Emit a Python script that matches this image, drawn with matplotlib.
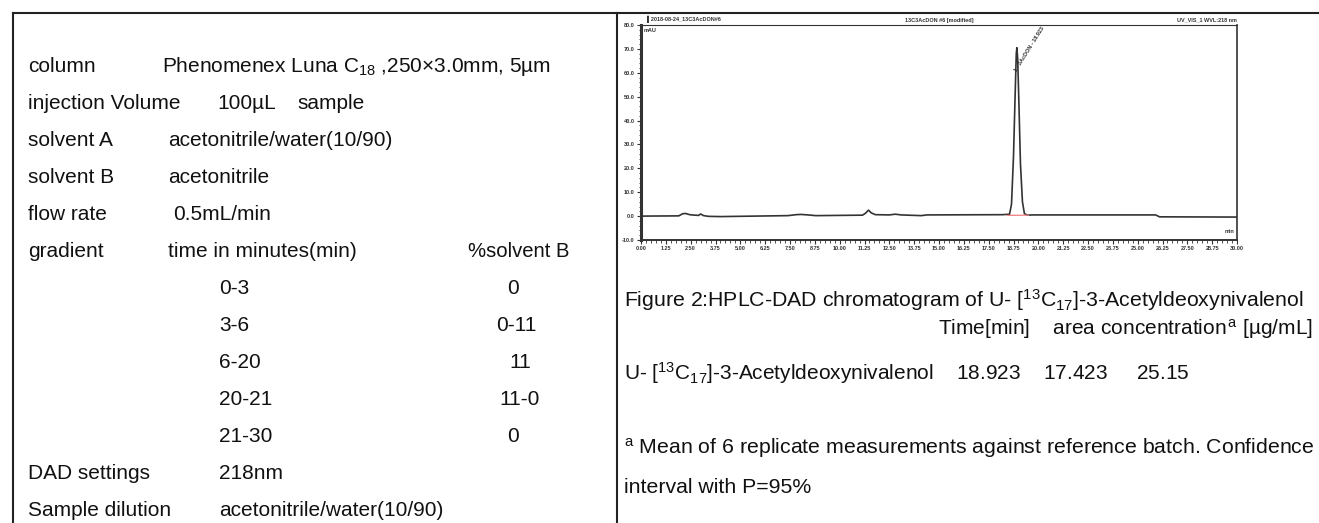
import matplotlib
matplotlib.use("Agg")
import matplotlib.pyplot as plt
from matplotlib.lines import Line2D
from matplotlib.ticker import MultipleLocator, FormatStrFormatter

plt.rcParams['font.family'] = ['Liberation Sans', 'DejaVu Sans']
plt.rcParams['mathtext.fontset'] = 'custom'
plt.rcParams['mathtext.rm'] = 'Liberation Sans'
plt.rcParams['mathtext.it'] = 'Liberation Sans'
plt.rcParams['mathtext.bf'] = 'Liberation Sans:bold'

# method parameters (left cell)
param_labels = ["column", "injection Volume", "solvent A", "solvent B", "flow rate", "gradient"]
param_values = ["Phenomenex Luna C$_{18}$ ,250\u00d73.0mm, 5\u00b5m", "100\u00b5L", "acetonitrile/water(10/90)",
                "acetonitrile", "0.5mL/min", "time in minutes(min)"]
gradient_time = ["0-3", "3-6", "6-20", "20-21", "21-30"]
gradient_b = ["0", "0-11", "11", "11-0", "0"]
tail_labels = ["DAD settings", "Sample dilution"]
tail_values = ["218nm", "acetonitrile/water(10/90)"]

# chromatogram (time in min, signal in mAU)
rt_min = [0.0, 1.9, 2.1, 2.25, 2.45, 2.7, 2.9, 3.0, 3.15, 3.4, 4.0, 7.4, 7.8, 8.05, 8.4, 8.8,
          11.15, 11.3, 11.45, 11.6, 11.8, 12.5, 12.8, 13.1, 14.1, 14.4, 18.2, 18.55, 18.65,
          18.75, 18.83, 18.89, 18.92, 18.96, 19.02, 19.1, 19.2, 19.3, 19.45, 19.7, 25.9, 26.1, 30.0]
signal_mau = [0.0, 0.1, 1.0, 1.1, 0.6, 0.4, 0.3, 0.9, 0.2, -0.1, -0.2, 0.2, 0.6, 0.7, 0.5, 0.2,
              0.4, 1.2, 2.5, 1.3, 0.6, 0.5, 0.8, 0.5, 0.2, 0.5, 0.6, 0.8, 5.0,
              25.0, 50.0, 68.0, 70.5, 66.0, 48.0, 22.0, 6.0, 1.0, 0.4, 0.5, 0.5, -0.3, -0.4]
peak_rt = 18.923
peak_name = "1 - 3AcDON - 18.923"

W, H = 1319, 523


def fx(x):
    return x / W


def fy(y):
    return 1 - y / H


fig = plt.figure(figsize=(W / 100, H / 100), dpi=100)

# table borders
lc = '#222222'
fig.add_artist(Line2D([fx(13), fx(W)], [fy(13), fy(13)], color=lc, lw=1.5))
fig.add_artist(Line2D([fx(13), fx(13)], [fy(13), 0], color=lc, lw=1.5))
fig.add_artist(Line2D([fx(617), fx(617)], [fy(13), 0], color=lc, lw=1.5))

fs = 15
tc = '#111111'


def put(x, y, s, size=fs, **kw):
    fig.text(fx(x), fy(y), s, fontsize=size, color=tc, va='baseline', **kw)


value_x = [162, 217, 168, 168, 173, 168]
for i, (lab, val) in enumerate(zip(param_labels, param_values)):
    yb = 72 + 37 * i
    put(28, yb, lab)
    put(value_x[i], yb, val)
put(297, 72 + 37, "sample")
put(468, 72 + 37 * 5, "%solvent B", size=14.6)
b_center = [513, 516, 520, 520, 513]
for j, (t, b) in enumerate(zip(gradient_time, gradient_b)):
    yb = 72 + 37 * (6 + j)
    put(219, yb, t)
    put(b_center[j], yb, b, ha='center')
for k, (lab, val) in enumerate(zip(tail_labels, tail_values)):
    yb = 72 + 37 * (11 + k)
    put(28, yb, lab)
    put(219, yb, val)

# right cell text
rs = 15.3
put(624, 307, "Figure 2:HPLC-DAD chromatogram of U- [$^{13}$C$_{17}$]-3-Acetyldeoxynivalenol", size=rs)
put(1313, 335, "Time[min]    area concentration$^{\\,a}$ [\u00b5g/mL]", ha='right')
put(624, 380, "U- [$^{13}$C$_{17}$]-3-Acetyldeoxynivalenol    18.923    17.423     25.15")
put(624, 454, "$^{a}$ Mean of 6 replicate measurements against reference batch. Confidence", size=rs)
put(624, 493, "interval with P=95%", size=rs)

# chromatogram
ax = fig.add_axes([fx(641), fy(240), fx(1237) - fx(641), (240 - 25) / H])
gc = '#333333'
ax.plot(rt_min, signal_mau, color=gc, lw=1.2)
ax.plot([18.45, 19.5], [0.3, 0.4], color='#f08080', lw=0.9)
ax.set_xlim(0, 30)
ax.set_ylim(-10, 80)
ax.xaxis.set_major_locator(MultipleLocator(1.25))
ax.xaxis.set_minor_locator(MultipleLocator(0.25))
ax.yaxis.set_major_locator(MultipleLocator(10))
ax.yaxis.set_minor_locator(MultipleLocator(2))
ax.xaxis.set_major_formatter(FormatStrFormatter('%.2f'))
ax.yaxis.set_major_formatter(FormatStrFormatter('%.1f'))
ax.tick_params(axis='both', which='major', labelsize=4, length=3, width=0.8, color=gc,
               labelcolor=gc, pad=1.5)
ax.tick_params(axis='both', which='minor', length=1.8, width=0.6, color=gc)
for lab in ax.get_xticklabels() + ax.get_yticklabels():
    lab.set_fontweight('bold')
ax.spines['left'].set_linewidth(2.2)
ax.spines['bottom'].set_linewidth(1.4)
ax.spines['right'].set_linewidth(1.2)
ax.spines['top'].set_linewidth(0.8)
for sp in ax.spines.values():
    sp.set_color(gc)

ax.text(0.005, 0.985, "mAU", transform=ax.transAxes, fontsize=4, fontweight='bold', color=gc,
        va='top', ha='left')
ax.text(0.995, 0.03, "min", transform=ax.transAxes, fontsize=4, fontweight='bold', color=gc,
        va='bottom', ha='right')
ax.text(0.01, 1.01, "\u258c2018-08-24_13C3AcDON#6", transform=ax.transAxes, fontsize=4,
        fontweight='bold', color=gc, va='bottom', ha='left')
ax.text(0.5, 1.01, "13C3AcDON #6 [modified]", transform=ax.transAxes, fontsize=4,
        fontweight='bold', color=gc, va='bottom', ha='center')
ax.text(1.0, 1.01, "UV_VIS_1 WVL:218 nm", transform=ax.transAxes, fontsize=4,
        fontweight='bold', color=gc, va='bottom', ha='right')
ax.text(peak_rt + 0.05, 60, peak_name, fontsize=4, fontweight='bold', color=gc,
        rotation=58, rotation_mode='anchor', ha='left', va='bottom')

fig.savefig("out.png", dpi=100)
